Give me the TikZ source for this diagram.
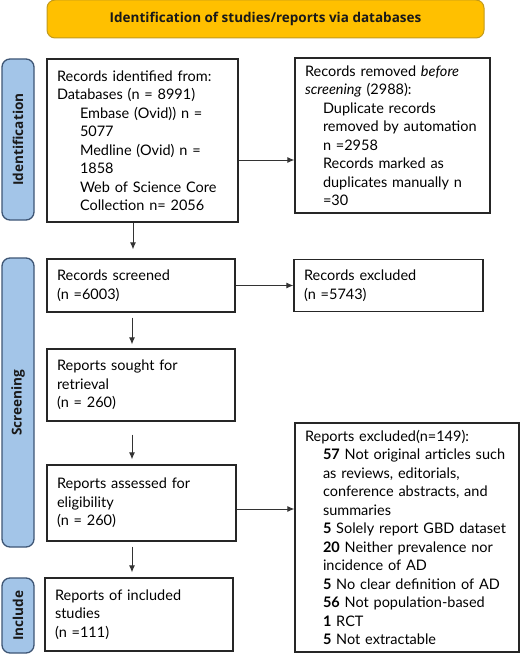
\documentclass[tikz,border=0pt]{standalone}
\usepackage{fontspec}
\setmainfont{Lato}
\newfontfamily\headfont{Open Sans}
\usetikzlibrary{arrows.meta,positioning}
\tikzset{>={Latex[length=7pt,width=6pt]}}
\definecolor{gold}{HTML}{FFC000}
\definecolor{golddark}{HTML}{C29A1B}
\definecolor{sideblue}{HTML}{A3C5E8}
\definecolor{sideline}{HTML}{3E5675}
\newcommand{\ind}{\hspace*{23pt}}
\newcommand{\indr}{\hspace*{18pt}}

\begin{document}
\begin{tikzpicture}[x=1pt, y=1pt,
    box/.style={draw=black!85, line width=1.3pt, inner xsep=10pt, inner ysep=0pt, align=left,
      font=\fontsize{14.5}{18.5}\selectfont},
    side/.style={draw=sideline, line width=1.3pt, fill=sideblue, rounded corners=8pt, rotate=90,
      minimum height=32pt, inner sep=0pt, text=black!90, font=\headfont\fontsize{13.6}{16}\selectfont\bfseries},
    banner/.style={draw=golddark, line width=1pt, fill=gold, rounded corners=8pt, text=black!90,
      minimum width=437pt, minimum height=38pt, font=\headfont\fontsize{13.5}{16}\selectfont\bfseries},
    flow/.style={->, draw=black!80, line width=0.9pt},
    node distance=1cm, on grid]
  \useasboundingbox (0,0) rectangle (520,-655);
  % banner
  \node[banner] (head) at (265.5,-19) {Identification of studies/reports via databases};
  % phases
  \node[side, minimum width=161pt] (sid) at (18,-139.5) {Identification};
  \node[side, minimum width=289pt] (sscr) at (18,-402.5) {Screening};
  \node[side, minimum width=75pt] (sinc) at (18,-615.5) {Include};
  % left column
  \node[box, text width=171pt, minimum height=163pt] (ident) at (142.5,-140.5)
    {Records identified from:\\
     Databases (n = 8991)\\
     \ind Embase (Ovid)) n =\\
     \ind 5077\\
     \ind Medline (Ovid) n =\\
     \ind 1858\\
     \ind Web of Science Core\\
     \ind Collection n= 2056};
  \node[box, text width=168pt, minimum height=53pt] (screen) [below=145pt of ident, xshift=-1.5pt]
    {Records screened\\(n =6003)};
  \node[box, text width=168pt, minimum height=72pt] (sought) [below=99.5pt of screen]
    {Reports sought for\\retrieval\\(n = 260)};
  \node[box, text width=169pt, minimum height=76pt] (assess) [below=118pt of sought, xshift=0.5pt]
    {Reports assessed for\\eligibility\\(n = 260)};
  \node[box, text width=168pt, minimum height=73pt] (incl) [below=111.5pt of assess, xshift=-2.5pt]
    {Reports of included\\studies\\(n =111)};
  % right column
  \node[box, text width=175pt, minimum height=155pt] (removed) at (392.5,-135.5)
    {Records removed \emph{before}\\
     \emph{screening} (2988):\\
     \indr Duplicate records\\
     \indr removed by automation\\
     \indr n =2958\\
     \indr Records marked as\\
     \indr duplicates manually n\\
     \indr =30};
  \node[box, text width=169pt, minimum height=52pt] (excl) [right=247.5pt of screen]
    {Records excluded\\(n =5743)};
  \node[box, text width=204pt, minimum height=229pt] (rexcl) at (407,-537.5)
    {Reports excluded(n=149):\\
     \indr\textbf{57} Not original articles such\\
     \indr as reviews, editorials,\\
     \indr conference abstracts, and\\
     \indr summaries\\
     \indr\textbf{5} Solely report GBD dataset\\
     \indr\textbf{20} Neither prevalence nor\\
     \indr incidence of AD\\
     \indr\textbf{5} No clear definition of AD\\
     \indr\textbf{56} Not population-based\\
     \indr\textbf{1} RCT\\
     \indr\textbf{5} Not extractable};
  % arrows
  \draw[flow] ([yshift=-19.5pt]ident.east) -- ([yshift=-19.5pt]ident.east -| removed.west);
  \draw[flow] (screen.east) -- (screen.east -| excl.west);
  \draw[flow] ([yshift=-6pt]assess.east) -- ([yshift=-6pt]assess.east -| rexcl.west);
  \draw[flow, shorten >=9pt] ([xshift=-9.5pt]ident.south) -- ([xshift=-9.5pt]ident.south |- screen.north);
  \draw[flow, shorten >=4pt, shorten <=5pt] ([xshift=-9pt]screen.south) -- ([xshift=-9pt]screen.south |- sought.north);
  \draw[flow, shorten >=5pt, shorten <=13pt] ([xshift=-9pt]sought.south) -- ([xshift=-9pt]sought.south |- assess.north);
  \draw[flow, shorten >=5pt, shorten <=5pt] ([xshift=-9.5pt]assess.south) -- ([xshift=-9.5pt]assess.south |- incl.north);
\end{tikzpicture}
\end{document}
